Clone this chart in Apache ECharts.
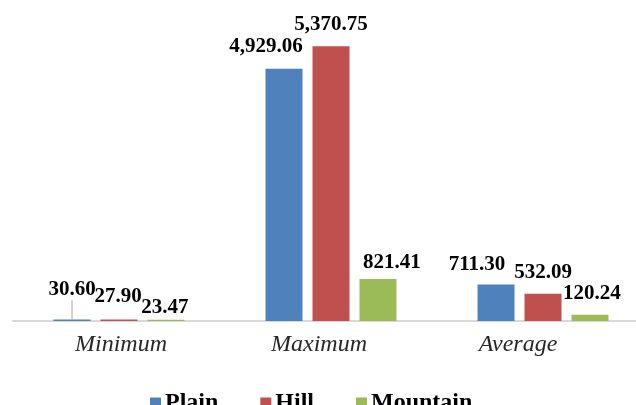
<!DOCTYPE html>
<html>
<head>
<meta charset="utf-8">
<script src="https://cdn.jsdelivr.net/npm/echarts@6/dist/echarts.min.js"></script>
<style>
  html, body { margin: 0; padding: 0; background: #fff; }
  #chart { width: 636px; height: 405px; }
</style>
</head>
<body>
<div id="chart"></div>
<script>
const categories = ["Minimum", "Maximum", "Average"];
const plainValues = [30.60, 4929.06, 711.30];
const hillValues = [27.90, 5370.75, 532.09];
const mountainValues = [23.47, 821.41, 120.24];
const seriesNames = ["Plain", "Hill", "Mountain"];

// label nudges [dx, dy] per series, per category (hand placed in the original)
const labelNudges = [
  [[0, -8], [-18, -1], [-19, 1]],
  [[-1, -1], [0, 0], [0, 0]],
  [[-1, 9], [14, 5], [2, 0]],
];
// category labels sit a bit off their band centres in the original
const catLabelShift = [2, -12, -25];

const colors = ["#4f81bd", "#c0504d", "#9bbb59"];
const serif = "'Liberation Serif', 'Times New Roman', serif";

function formatValue(v) {
  return Number(v).toLocaleString("en-US", { minimumFractionDigits: 2, maximumFractionDigits: 2 });
}

function makeSeries(name, values, idx) {
  return {
    name: name,
    type: "bar",
    barWidth: 37,
    barGap: "27%",
    itemStyle: { color: colors[idx] },
    data: values.map((v, i) => {
      if (idx === 0 && i === 0) {
        return { value: v, labelLine: { show: true, lineStyle: { color: "#a6a6a6", width: 1 } } };
      }
      return v;
    }),
    label: {
      show: true,
      position: "top",
      distance: 11,
      color: "#000",
      fontFamily: serif,
      fontWeight: "bold",
      fontSize: 21,
      formatter: (p) => formatValue(p.value),
    },
    labelLine: { show: false },
    labelLayout: (p) => {
      const n = labelNudges[idx][p.dataIndex];
      return { dx: n[0], dy: n[1] };
    },
  };
}

const catRich = {};
catLabelShift.forEach((s, i) => {
  catRich["c" + i] = {
    color: "#262626",
    fontFamily: serif,
    fontStyle: "italic",
    fontSize: 24,
    padding: s >= 0 ? [0, 0, 0, 2 * s] : [0, -2 * s, 0, 0],
  };
});

const chart = echarts.init(document.getElementById("chart"));
chart.setOption({
  animation: false,
  color: colors,
  grid: { left: 13, width: 636, top: 14, height: 307, containLabel: false, outerBoundsMode: "none" },
  legend: {
    data: seriesNames,
    left: 145,
    top: 386,
    icon: "rect",
    itemWidth: 11,
    itemHeight: 11,
    itemGap: 42,
    textStyle: { color: "#000", fontFamily: serif, fontWeight: "bold", fontSize: 24, padding: [0, 0, 0, -1] },
  },
  xAxis: {
    type: "category",
    data: categories,
    axisTick: { show: false },
    axisLine: { lineStyle: { color: "#d9d9d9", width: 2 } },
    axisLabel: {
      margin: 12,
      formatter: (value, index) => "{c" + index + "|" + value + "}",
      rich: catRich,
    },
  },
  yAxis: {
    type: "value",
    min: 0,
    max: 6000,
    show: false,
    splitLine: { show: false },
  },
  series: [
    makeSeries(seriesNames[0], plainValues, 0),
    makeSeries(seriesNames[1], hillValues, 1),
    makeSeries(seriesNames[2], mountainValues, 2),
  ],
});
</script>
</body>
</html>
